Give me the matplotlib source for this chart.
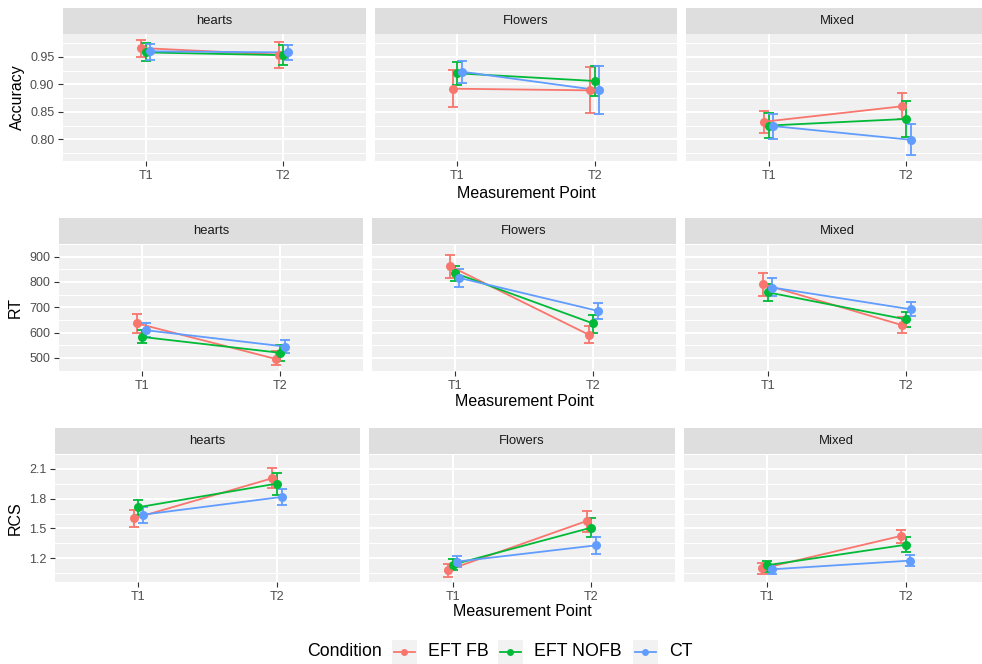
import numpy as np
import matplotlib
matplotlib.use('Agg')
import matplotlib.pyplot as plt
from matplotlib.patches import Rectangle
from matplotlib.lines import Line2D

plt.rcParams['font.family'] = ['Liberation Sans', 'DejaVu Sans']

# data: [stimulus][condition][time point]
stimuli = ['hearts', 'Flowers', 'Mixed']
conditions = ['EFT FB', 'EFT NOFB', 'CT']
time_points = ['T1', 'T2']
colors = ['#F8766D', '#00BA38', '#619CFF']

acc_mean = [[[0.966, 0.954], [0.958, 0.953], [0.960, 0.958]],
            [[0.892, 0.889], [0.920, 0.906], [0.923, 0.889]],
            [[0.832, 0.860], [0.825, 0.837], [0.824, 0.799]]]
acc_lo = [[[0.950, 0.930], [0.942, 0.936], [0.945, 0.944]],
          [[0.859, 0.847], [0.899, 0.879], [0.903, 0.846]],
          [[0.812, 0.837], [0.802, 0.805], [0.800, 0.771]]]
acc_hi = [[[0.981, 0.977], [0.976, 0.972], [0.974, 0.972]],
          [[0.926, 0.932], [0.940, 0.934], [0.942, 0.933]],
          [[0.851, 0.885], [0.848, 0.869], [0.846, 0.827]]]

rt_mean = [[[636, 496], [583, 520], [609, 545]],
           [[862, 592], [835, 636], [816, 686]],
           [[791, 630], [759, 652], [778, 692]]]
rt_lo = [[[598, 470], [557, 486], [582, 519]],
         [[816, 557], [802, 597], [780, 655]],
         [[745, 597], [726, 622], [743, 665]]]
rt_hi = [[[672, 526], [612, 550], [638, 572]],
         [[906, 627], [865, 670], [850, 718]],
         [[835, 661], [792, 682], [814, 720]]]

rcs_mean = [[[1.600, 2.006], [1.713, 1.952], [1.638, 1.817]],
            [[1.080, 1.575], [1.134, 1.508], [1.165, 1.329]],
            [[1.096, 1.424], [1.128, 1.335], [1.087, 1.175]]]
rcs_lo = [[[1.509, 1.905], [1.631, 1.836], [1.559, 1.738]],
          [[1.014, 1.464], [1.077, 1.411], [1.109, 1.241]],
          [[1.039, 1.348], [1.065, 1.257], [1.039, 1.121]]]
rcs_hi = [[[1.685, 2.107], [1.789, 2.063], [1.713, 1.899]],
          [[1.140, 1.679], [1.187, 1.600], [1.219, 1.411]],
          [[1.150, 1.487], [1.172, 1.411], [1.128, 1.228]]]

acc_ticks = [0.80, 0.85, 0.90, 0.95]
rt_ticks = [500, 600, 700, 800, 900]
rcs_ticks = [1.2, 1.5, 1.8, 2.1]

W, H = 982, 664
fig = plt.figure(figsize=(W / 100, H / 100), dpi=100)

# overlay axes in pixel coords for strips / legend
over = fig.add_axes([0, 0, 1, 1], zorder=5)
over.set_xlim(0, W)
over.set_ylim(H, 0)
over.axis('off')

rows = [
    ('Accuracy', acc_mean, acc_lo, acc_hi, acc_ticks, '%.2f', 63, 8, 34, 161, 193, 17),
    ('RT', rt_mean, rt_lo, rt_hi, rt_ticks, '%d', 59, 218, 244, 371, 402, 15),
    ('RCS', rcs_mean, rcs_lo, rcs_hi, rcs_ticks, '%.1f', 55, 428, 454, 582, 612, 15),
]
right_edge = 989
gap = 9
dodge = [-0.033, 0.0, 0.033]
x = np.arange(1, len(time_points) + 1)

for (ylab, mean, lo, hi, ticks, fmt, left, strip_top, ptop, pbot, xlab_y, ylab_x) in rows:
    mean, lo, hi = np.array(mean), np.array(lo), np.array(hi)
    vmin, vmax = lo.min(), hi.max()
    pad = (vmax - vmin) * 0.05
    ylim = (vmin - pad, vmax + pad)
    step = ticks[1] - ticks[0]
    minor = np.arange(ticks[0] - step / 2, ticks[-1] + step, step)
    pw = (right_edge - left - 2 * gap) / 3
    for s, stim in enumerate(stimuli):
        x0 = left + s * (pw + gap)
        ax = fig.add_axes([x0 / W, 1 - pbot / H, pw / W, (pbot - ptop) / H])
        ax.set_facecolor('#F0F0F0')
        for sp in ax.spines.values():
            sp.set_visible(False)
        ax.set_xlim(0.4, 2.6)
        ax.set_ylim(*ylim)
        ax.set_yticks(ticks)
        ax.set_yticks(minor, minor=True)
        ax.set_xticks(x)
        ax.set_xticklabels(time_points)
        ax.grid(True, which='major', color='white', lw=1.5)
        ax.grid(True, which='minor', axis='y', color='white', lw=0.8)
        ax.set_axisbelow(True)
        ax.tick_params(which='minor', length=0)
        ax.tick_params(which='major', length=3.8, width=0.8, color='#333333',
                       labelcolor='#4D4D4D', labelsize=9, pad=2.5)
        if s == 0:
            ax.set_yticklabels([fmt % t for t in ticks])
        else:
            ax.tick_params(axis='y', which='major', length=0, labelleft=False)
        for c in range(len(conditions)):
            xs = x + dodge[c]
            m = mean[s, c]
            ax.errorbar(xs, m, yerr=[m - lo[s, c], hi[s, c] - m], fmt='none',
                        ecolor=colors[c], elinewidth=1.3, capsize=3.3,
                        capthick=1.3, zorder=2)
        for c in range(len(conditions)):
            ax.plot(x + dodge[c], mean[s, c], color=colors[c], lw=1.3, zorder=3)
        for c in range(len(conditions)):
            ax.plot(x + dodge[c], mean[s, c], 'o', color=colors[c], ms=6.5,
                    mec='none', zorder=4)
        # strip
        over.add_patch(Rectangle((x0, strip_top), pw, ptop - strip_top,
                                 facecolor='#DEDEDE', edgecolor='none'))
        over.text(x0 + pw / 2, (strip_top + ptop) / 2, stim, ha='center',
                  va='center', fontsize=9.4, color='#1A1A1A')
    over.text(left + (right_edge - left) / 2, xlab_y, 'Measurement Point',
              ha='center', va='center', fontsize=11.5, color='black')
    over.text(ylab_x, (ptop + pbot) / 2, ylab, rotation=90, ha='center',
              va='center', fontsize=11.5, color='black')

# legend
ly = 652
over.text(307, ly, 'Condition', ha='left', va='center', fontsize=12.8)
key_x = [392, 498, 633]
for c, cond in enumerate(conditions):
    kx = key_x[c]
    over.add_patch(Rectangle((kx, ly - 12), 25, 24, facecolor='#F2F2F2',
                             edgecolor='none'))
    over.add_line(Line2D([kx + 2, kx + 23], [ly, ly], color=colors[c], lw=1.3))
    over.add_line(Line2D([kx + 12.5], [ly], marker='o', ms=5, color=colors[c],
                         mec='none'))
    over.text(kx + 36, ly, cond, ha='left', va='center', fontsize=12.8)

fig.savefig('out.png', dpi=100)
